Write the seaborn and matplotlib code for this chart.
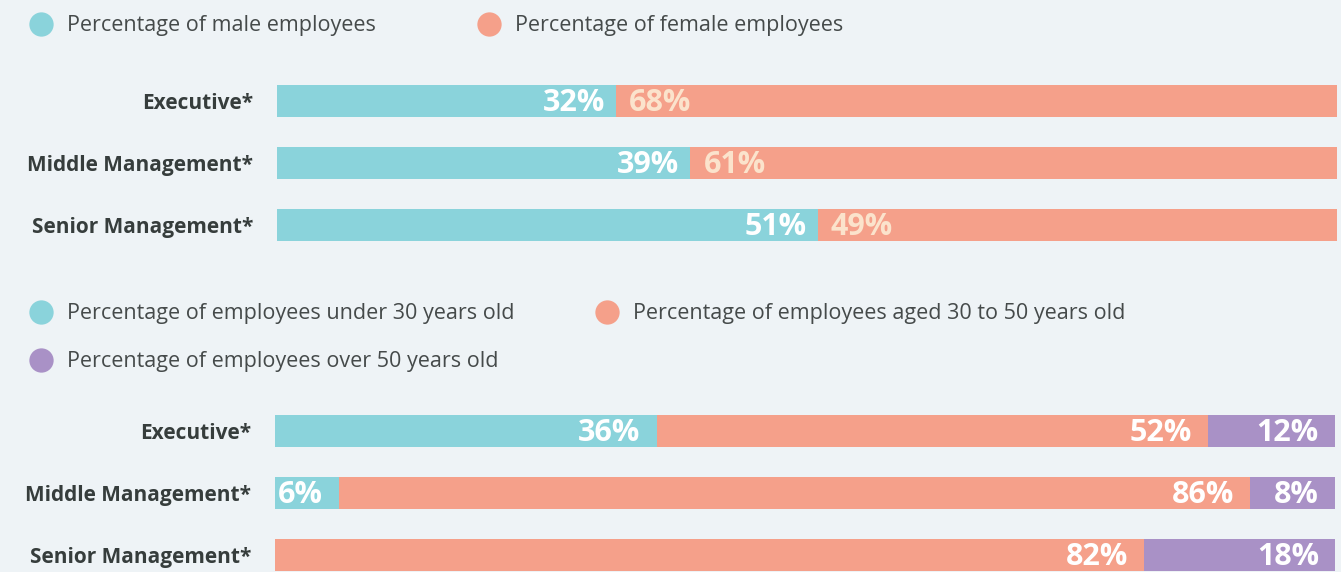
import matplotlib
matplotlib.use("Agg")
import matplotlib.pyplot as plt
from matplotlib.lines import Line2D
import seaborn as sns
import pandas as pd

# Data
categories = ["Executive*", "Middle Management*", "Senior Management*"]
male_pct = [32, 39, 51]
female_pct = [68, 61, 49]
under30_pct = [36, 6, 0]
aged30_50_pct = [52, 86, 82]
over50_pct = [12, 8, 18]

gender_legend = ["Percentage of male employees", "Percentage of female employees"]
age_legend = ["Percentage of employees under 30 years old",
              "Percentage of employees aged 30 to 50 years old",
              "Percentage of employees over 50 years old"]

# Style
BG = "#eef3f6"
TEAL = "#8ad3db"
SALMON = "#f5a08a"
PURPLE = "#a991c6"
CREAM = "#fbe3cc"
LABEL_COLOR = "#363d3c"
LEGEND_COLOR = "#454a4a"
FONT = "Open Sans"

sns.set_theme(style="white")
plt.rcParams["font.family"] = [FONT, "DejaVu Sans"]

W, H = 1341, 572
fig = plt.figure(figsize=(W / 100, H / 100), dpi=100, facecolor=BG)


def fx(px):
    return px / W


def fy(py):
    return 1 - py / H


def make_axes(left_px, top_px):
    # three rows, 62 px apart
    height_px = 186
    return fig.add_axes([fx(left_px), fy(top_px + height_px), 1060 / W, height_px / H])


def stacked(ax, layers):
    """layers: list of (values, color); drawn from the full stack downward."""
    cum = []
    running = [0] * len(categories)
    for vals, _ in layers:
        running = [r + v for r, v in zip(running, vals)]
        cum.append(list(running))
    for (vals, color), totals in reversed(list(zip(layers, cum))):
        df = pd.DataFrame({"cat": categories, "val": totals})
        sns.barplot(data=df, x="val", y="cat", orient="h", color=color,
                    width=0.53, saturation=1, ax=ax, linewidth=0)
    return cum


def style_axes(ax):
    ax.set_facecolor(BG)
    ax.set_xlim(0, 100)
    ax.set_ylim(2.5, -0.5)
    ax.set_xlabel("")
    ax.set_ylabel("")
    ax.set_xticks([])
    for s in ax.spines.values():
        s.set_visible(False)
    ax.tick_params(axis="y", length=0, pad=17)
    for t in ax.get_yticklabels():
        t.set_fontsize(15)
        t.set_fontweight("bold")
        t.set_color(LABEL_COLOR)


def label(ax, x, y, text, color, ha, dx):
    ax.annotate(text, (x, y), xytext=(dx, -2), textcoords="offset pixels",
                ha=ha, va="center", fontsize=22, fontweight="bold", color=color)


# Gender chart
ax1 = make_axes(277, 70)
stacked(ax1, [(male_pct, TEAL), (female_pct, SALMON)])
style_axes(ax1)
for i, (m, f) in enumerate(zip(male_pct, female_pct)):
    label(ax1, m, i, f"{m}%", "white", "right", -11)
    label(ax1, m, i, f"{f}%", CREAM, "left", 13)

# Age chart
ax2 = make_axes(275, 400)
cum = stacked(ax2, [(under30_pct, TEAL), (aged30_50_pct, SALMON), (over50_pct, PURPLE)])
style_axes(ax2)
for layer_vals, layer_cum in zip([under30_pct, aged30_50_pct, over50_pct], cum):
    for i, (v, c) in enumerate(zip(layer_vals, layer_cum)):
        if v > 0:
            label(ax2, c, i, f"{v}%", "white", "right", -16)


# Legends
def legend_item(x_px, y_px, color, text):
    fig.add_artist(Line2D([fx(x_px)], [fy(y_px)], marker="o", markersize=17.5,
                          color=color, markeredgewidth=0, transform=fig.transFigure))
    fig.text(fx(x_px + 26), fy(y_px + 2), text, ha="left", va="center",
             fontsize=15.5, color=LEGEND_COLOR)


legend_item(41, 24, TEAL, gender_legend[0])
legend_item(489, 24, SALMON, gender_legend[1])
legend_item(41, 312, TEAL, age_legend[0])
legend_item(607, 312, SALMON, age_legend[1])
legend_item(41, 360, PURPLE, age_legend[2])

fig.savefig("out.png", dpi=100, facecolor=BG)
